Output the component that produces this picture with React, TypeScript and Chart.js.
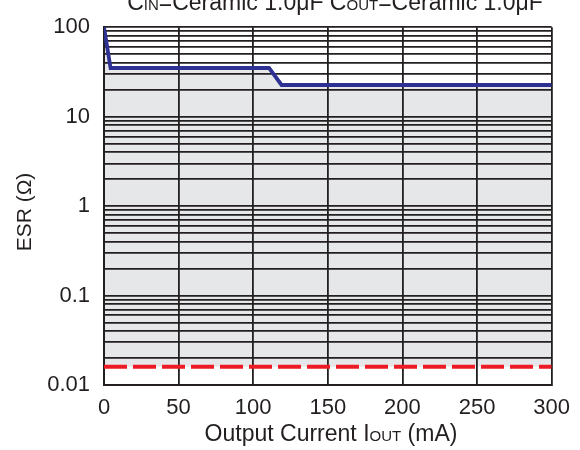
import React, { useEffect, useRef } from "react";
import { Chart, registerables } from "chart.js";

Chart.register(...registerables);

// ---- data ----
const upperCurrent = [0, 4.4, 110.6, 119, 300]; // mA
const upperESR = [100, 35, 35, 22.6, 22.6]; // ohm
const lowerCurrent = [0, 300]; // mA
const lowerESR = [0.016, 0.016]; // ohm

const xTicks = [0, 50, 100, 150, 200, 250, 300];
const yDecades = [0.01, 0.1, 1, 10];
const yMantissas = [1, 2, 3, 4, 5, 6, 7, 8, 9];
const yMajorLabels = [0.01, 0.1, 1, 10, 100];

const topTitle: [string, boolean][] = [
  ["C", false],
  ["IN", true],
  ["=Ceramic 1.0\u03bcF C", false],
  ["OUT", true],
  ["=Ceramic 1.0\u03bcF", false],
];
const xTitle: [string, boolean][] = [
  ["Output Current I", false],
  ["OUT", true],
  [" (mA)", false],
];
const yTitle = "ESR (\u03a9)";

const FONT = "'Liberation Sans', Arial, Helvetica, sans-serif";
const TEXT = "#231f20";

function drawSegments(
  ctx: CanvasRenderingContext2D,
  segs: [string, boolean][],
  cx: number,
  baseline: number,
  big: number,
  small: number
) {
  const widths = segs.map(([t, s]) => {
    ctx.font = `${s ? small : big}px ${FONT}`;
    return ctx.measureText(t).width;
  });
  const total = widths.reduce((a, b) => a + b, 0);
  let x = cx - total / 2;
  ctx.textBaseline = "alphabetic";
  ctx.textAlign = "left";
  segs.forEach(([t, s], i) => {
    ctx.font = `${s ? small : big}px ${FONT}`;
    ctx.fillText(t, x, baseline);
    x += widths[i];
  });
}

const titlesPlugin = {
  id: "customTitles",
  afterDraw(chart: any) {
    const ctx = chart.ctx as CanvasRenderingContext2D;
    ctx.save();
    ctx.fillStyle = TEXT;
    drawSegments(ctx, topTitle, 335, 10, 23, 15);
    drawSegments(ctx, xTitle, 331, 441, 23, 15);
    ctx.translate(25, 212);
    ctx.rotate(-Math.PI / 2);
    ctx.font = `21px ${FONT}`;
    ctx.textAlign = "center";
    ctx.textBaseline = "middle";
    ctx.fillText(yTitle, 0, 0);
    ctx.restore();
  },
};

export default function App() {
  const ref = useRef<HTMLCanvasElement>(null);

  useEffect(() => {
    if (!ref.current) return;
    const yTickValues: number[] = [];
    yDecades.forEach((d) => yMantissas.forEach((m) => yTickValues.push(+(d * m).toPrecision(3))));
    yTickValues.push(100);

    const chart = new Chart(ref.current, {
      type: "line",
      data: {
        datasets: [
          {
            data: upperCurrent.map((x, i) => ({ x, y: upperESR[i] })),
            borderColor: "#2e3192",
            borderWidth: 3.8,
            pointRadius: 0,
            tension: 0,
            fill: "+1",
            backgroundColor: "#e6e7e8",
          },
          {
            data: lowerCurrent.map((x, i) => ({ x, y: lowerESR[i] })),
            borderColor: "#ed1c24",
            borderWidth: 4,
            borderDash: [23, 6],
            pointRadius: 0,
            tension: 0,
            fill: false,
          },
        ],
      },
      options: {
        animation: false,
        responsive: false,
        layout: { padding: { top: 24, right: 24, left: 0, bottom: 0 } },
        plugins: {
          legend: { display: false },
          tooltip: { enabled: false },
          filler: { drawTime: "beforeDraw" },
        } as any,
        scales: {
          x: {
            type: "linear",
            min: 0,
            max: 300,
            afterBuildTicks: (scale: any) => {
              scale.ticks = xTicks.map((v) => ({ value: v }));
            },
            afterFit: (scale: any) => {
              scale.height = 65;
            },
            ticks: {
              autoSkip: false,
              maxRotation: 0,
              padding: 10,
              color: TEXT,
              font: { family: FONT, size: 22 },
            },
            grid: { color: TEXT, lineWidth: 1.8, drawTicks: false },
            border: { display: true, color: TEXT, width: 2 },
          },
          y: {
            type: "logarithmic",
            min: 0.01,
            max: 100,
            afterBuildTicks: (scale: any) => {
              scale.ticks = yTickValues.map((v) => ({ value: v }));
            },
            afterFit: (scale: any) => {
              scale.width = 104;
            },
            ticks: {
              autoSkip: false,
              padding: 14,
              color: TEXT,
              font: { family: FONT, size: 22 },
              callback: (v: any) => {
                const n = Number(v);
                const hit = yMajorLabels.find((m) => Math.abs(m - n) / m < 1e-6);
                return hit !== undefined ? String(hit) : "";
              },
            },
            grid: { color: TEXT, lineWidth: 1.8, drawTicks: false },
            border: { display: true, color: TEXT, width: 2 },
          },
        },
      },
      plugins: [titlesPlugin],
    });
    return () => chart.destroy();
  }, []);

  return (
    <div style={{ position: "absolute", left: 0, top: 0, width: 580, height: 450, background: "#fff" }}>
      <canvas ref={ref} width={580} height={450} />
    </div>
  );
}
